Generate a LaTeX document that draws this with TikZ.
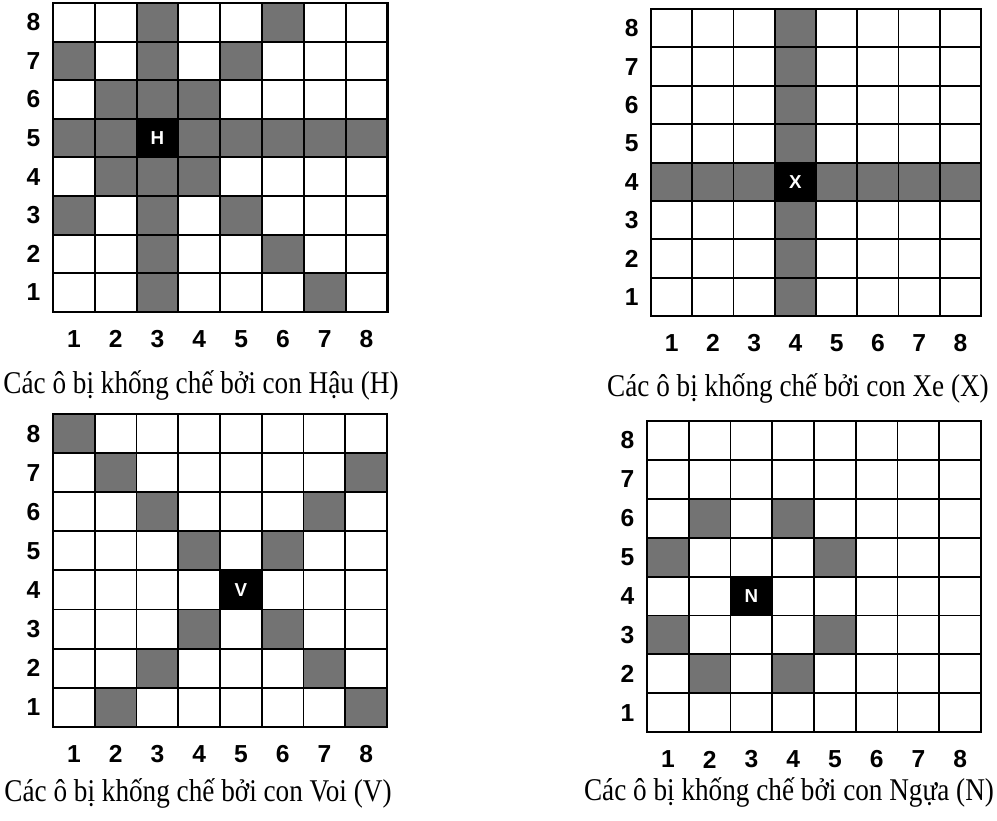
\documentclass[tikz,border=0pt]{standalone}
\usepackage{fontspec}
\setmainfont{Liberation Serif}
\newfontfamily\labelfont{Liberation Sans}

% grid lines and row/column numbers of one board (board units)
\newcommand{\boardgrid}[1]{%
  \foreach \i in {0,...,8} {
    \draw[gridline] (\i,0) -- (\i,8);
    \draw[gridline] (0,\i) -- (8,\i);
  }
  \draw[gridline, line width=2.2pt] (0,0) rectangle (8,8);
  \foreach \i in {1,...,8} {
    \node[numlabel] (#1-r\i) at (-0.47,8.5-\i) {\i};
    \node[numlabel] (#1-c\i) at (\i-0.5,8.7) {\i};
  }}

\begin{document}
\begin{tikzpicture}[x=0.3mm, y=-0.3mm]
    % Styles
    \tikzstyle{gridline}=[line width=1.6pt, black]
    \tikzstyle{hit}=[fill=black!55]
    \tikzstyle{piece}=[text=white, inner sep=0pt, font=\labelfont\bfseries\fontsize{16}{16}\selectfont]
    \tikzstyle{numlabel}=[inner sep=0pt, font=\labelfont\bfseries\fontsize{21}{21}\selectfont]
    \tikzstyle{caption}=[anchor=base, inner sep=0pt, xscale=0.86, font=\fontsize{27}{27}\selectfont]

    \useasboundingbox (0,0) rectangle (997,821);

    % Hau (H)
    \begin{scope}[shift={(53,3)}, x=12.54mm, y=-11.58mm]
        \foreach \c/\r in {3/1,3/2,3/3,3/4,3/6,3/7,3/8,1/5,2/5,4/5,5/5,6/5,7/5,8/5,
                           2/6,1/7,4/6,5/7,6/8,2/4,1/3,4/4,5/3,6/2,7/1}
            \fill[hit] (\c-1,8-\r) rectangle ++(1,1);
        \fill[black] (2,3) rectangle ++(1,1);
        \node[piece] (hau) at (2.5,3.5) {H};
        \boardgrid{hau}
    \end{scope}
    \node[caption] (hau-cap) at (201,393) {Các ô bị khống chế bởi con Hậu (H)};

    % Xe (X)
    \begin{scope}[shift={(651,9)}, x=12.375mm, y=-11.52mm]
        \foreach \k in {1,...,8} {
            \fill[hit] (3,\k-1) rectangle ++(1,1);
            \fill[hit] (\k-1,4) rectangle ++(1,1);
        }
        \fill[black] (3,4) rectangle ++(1,1);
        \node[piece] (xe) at (3.5,4.5) {X};
        \boardgrid{xe}
    \end{scope}
    \node[caption] (xe-cap) at (798,396) {Các ô bị khống chế bởi con Xe (X)};

    % Voi (V)
    \begin{scope}[shift={(53,414)}, x=12.525mm, y=-11.73mm]
        \foreach \c/\r in {4/5,3/6,2/7,1/8,6/5,7/6,8/7,4/3,3/2,2/1,6/3,7/2,8/1}
            \fill[hit] (\c-1,8-\r) rectangle ++(1,1);
        \fill[black] (4,4) rectangle ++(1,1);
        \node[piece] (voi) at (4.5,4.5) {V};
        \boardgrid{voi}
    \end{scope}
    \node[caption] (voi-cap) at (198,801) {Các ô bị khống chế bởi con Voi (V)};

    % Ngua (N)
    \begin{scope}[shift={(647,421)}, x=12.525mm, y=-11.67mm]
        \foreach \c/\r in {1/5,1/3,2/6,2/2,4/6,4/2,5/5,5/3}
            \fill[hit] (\c-1,8-\r) rectangle ++(1,1);
        \fill[black] (2,4) rectangle ++(1,1);
        \node[piece] (ngua) at (2.5,4.5) {N};
        \boardgrid{ngua}
    \end{scope}
    \node[caption] (ngua-cap) at (789,800) {Các ô bị khống chế bởi con Ngựa (N)};
\end{tikzpicture}
\end{document}
